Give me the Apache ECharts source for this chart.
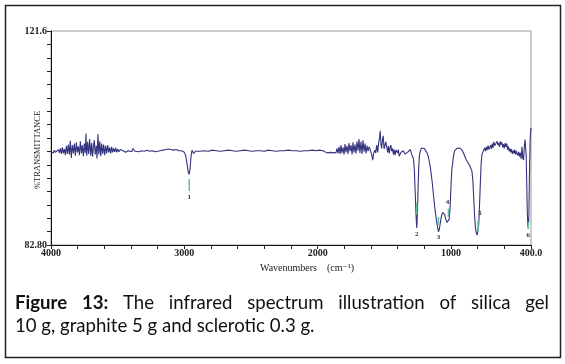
<!DOCTYPE html>
<html><head><meta charset="utf-8">
<script src="https://cdn.jsdelivr.net/npm/echarts@6/dist/echarts.min.js"></script>
<style>html,body{margin:0;padding:0;background:#fff}#c{width:565px;height:364px}</style>
</head><body><div id="c"></div>
<script>
// ---- data: [wavenumber (cm-1), %T] ----
const spectrumPoints = [
[4000,99.7],[3990,99.9],[3982,99.5],[3975,100.0],[3967,99.6],[3960,99.9],[3952,99.4],[3945,100.1],[3937,99.5],[3930,100.3],
[3922,99.3],[3915,100.5],[3907,99.4],[3900,100.2],[3892,99.1],[3885,100.8],[3877,99.3],[3870,101.0],[3862,99.2],[3855,101.7],
[3848,98.6],[3840,100.9],[3832,99.4],[3825,101.2],[3817,99.0],[3810,101.4],[3802,99.6],[3795,100.7],[3787,99.1],[3780,101.6],
[3772,99.4],[3765,100.9],[3757,98.9],[3750,101.2],[3743,99.5],[3738,103.0],[3732,99.0],[3725,101.5],[3717,99.3],[3710,102.0],
[3702,99.0],[3695,101.3],[3688,98.8],[3680,101.0],[3675,101.8],[3668,99.2],[3660,100.8],[3655,98.5],[3648,102.9],[3641,99.2],
[3634,101.6],[3627,98.9],[3620,101.2],[3612,99.3],[3605,101.0],[3597,99.1],[3590,100.8],[3582,99.4],[3575,100.9],[3567,99.6],
[3560,100.5],[3552,99.4],[3545,100.6],[3537,99.6],[3530,100.3],[3522,99.7],[3515,100.4],[3507,99.6],[3500,100.2],[3490,99.7],
[3480,100.1],[3470,99.8],[3460,99.9],[3440,99.6],[3420,99.9],[3405,100.2],[3395,99.7],[3385,100.3],[3370,99.8],[3355,100.0],
[3340,99.7],[3320,99.9],[3300,99.8],[3280,100.0],[3260,99.8],[3240,99.9],[3220,99.7],[3200,99.8],[3180,99.9],[3160,100.0],
[3140,100.1],[3120,100.2],[3100,100.1],[3080,100.0],[3060,100.1],[3040,99.9],[3020,99.9],[3000,99.6],[2990,99.0],[2980,97.6],
[2972,96.2],[2966,95.6],[2960,96.0],[2954,97.6],[2948,99.2],[2942,100.0],[2936,99.8],[2930,99.4],[2925,99.3],[2915,99.8],
[2900,99.9],[2880,99.8],[2850,99.9],[2820,99.8],[2790,100.0],[2760,99.9],[2730,99.8],[2700,99.9],[2670,100.0],[2640,99.9],
[2610,99.8],[2580,99.9],[2550,100.0],[2520,99.9],[2490,99.8],[2460,99.9],[2430,99.9],[2400,99.8],[2370,100.0],[2340,99.9],
[2310,99.8],[2280,99.9],[2250,99.9],[2220,100.0],[2190,99.9],[2160,99.9],[2130,99.8],[2100,99.9],[2070,99.9],[2040,100.0],
[2010,99.9],[1990,100.0],[1975,100.2],[1960,99.9],[1945,99.6],[1930,99.5],[1915,99.4],[1900,99.6],[1890,99.3],[1880,99.5],
[1870,99.2],[1862,99.6],[1855,100.3],[1848,99.4],[1840,100.6],[1832,99.3],[1825,100.9],[1818,99.5],[1810,100.5],[1802,99.2],
[1795,101.1],[1788,99.6],[1780,100.8],[1772,99.3],[1765,101.3],[1757,99.8],[1750,100.9],[1742,99.2],[1735,101.4],[1727,99.6],
[1720,101.0],[1712,99.4],[1705,101.6],[1697,99.9],[1690,102.0],[1683,99.5],[1675,101.5],[1667,99.3],[1660,101.8],[1652,99.7],
[1645,101.2],[1637,99.4],[1630,100.8],[1622,99.8],[1615,100.6],[1607,100.2],[1600,99.6],[1593,99.0],[1587,98.2],[1580,99.4],
[1572,100.0],[1565,99.5],[1557,100.9],[1550,99.6],[1542,101.4],[1535,102.4],[1531,103.5],[1525,101.0],[1520,100.3],[1514,101.8],
[1508,102.6],[1502,100.2],[1495,100.0],[1489,101.5],[1482,101.2],[1475,99.6],[1469,100.8],[1463,99.4],[1457,100.4],[1451,100.9],
[1445,99.8],[1438,100.3],[1432,99.2],[1426,100.1],[1420,99.1],[1413,100.0],[1407,100.3],[1401,99.5],[1395,100.1],[1388,98.9],
[1382,98.8],[1376,99.6],[1370,99.9],[1364,99.3],[1358,99.9],[1351,99.6],[1345,99.3],[1338,99.5],[1332,99.1],[1326,99.6],
[1320,99.8],[1313,99.6],[1307,100.1],[1300,99.7],[1293,99.1],[1287,99.1],[1282,98.5],[1275,96.5],[1268,92.0],[1262,88.0],
[1257,85.9],[1252,88.5],[1247,93.0],[1242,97.0],[1236,99.2],[1228,100.0],[1220,100.4],[1210,100.5],[1200,100.3],[1190,100.0],
[1180,99.5],[1170,98.8],[1160,97.6],[1150,96.0],[1140,94.0],[1130,91.5],[1120,89.2],[1110,87.4],[1100,85.9],[1094,85.2],
[1088,85.6],[1080,86.8],[1072,88.0],[1063,88.7],[1059,88.9],[1053,88.7],[1047,88.3],[1038,87.4],[1030,86.9],[1019,86.7],
[1013,87.5],[1006,90.0],[1000,93.5],[994,96.5],[988,97.5],[980,99.2],[972,99.9],[964,100.2],[955,100.3],[945,100.4],
[935,100.4],[925,100.2],[915,99.9],[905,99.4],[895,98.8],[885,98.2],[875,97.8],[868,97.7],[862,97.3],[856,97.2],
[850,97.0],[843,96.2],[836,94.5],[830,91.5],[824,88.5],[818,86.3],[811,85.0],[804,84.6],[798,84.8],[792,86.5],
[786,90.0],[780,94.0],[774,97.5],[768,99.2],[762,99.6],[755,99.9],[748,100.4],[741,99.8],[735,100.6],[729,100.0],
[722,100.8],[716,100.1],[710,100.5],[703,100.9],[697,100.2],[691,101.2],[685,100.4],[679,101.5],[672,100.8],[666,101.0],
[660,100.5],[654,101.6],[648,100.9],[642,101.3],[636,100.6],[630,101.6],[624,101.0],[618,101.4],[612,100.5],[606,101.1],
[600,100.3],[594,101.3],[588,100.6],[582,101.2],[576,100.1],[570,100.7],[564,99.8],[558,100.3],[552,99.6],[546,100.2],
[540,99.3],[534,99.9],[528,99.4],[522,100.1],[516,99.2],[510,99.8],[504,99.6],[498,99.0],[492,99.7],[486,98.8],
[480,99.5],[474,98.4],[468,100.6],[462,98.6],[456,98.2],[450,100.8],[445,101.9],[440,102.2],[436,99.0],[432,94.0],
[428,89.0],[424,86.5],[420,85.7],[416,88.0],[412,95.0],[407,101.5],[404,103.0],[401,104.0],[400,103.8]
];
const peakWavenumbers = [2963, 1257, 1094, 1019, 797, 420];
const peakMarkTop     = [94.76, 90.4, 87.9, 89.4, 87.3, 87.0];
const peakMarkBottom  = [92.59, 88.4, 86.4, 87.9, 85.2, 85.7];
const peakLabelValues = [91.5, 84.8, 84.3, 90.6, 88.6, 84.5];
const peakLabels      = ['1','2','3','4','5','6'];
const xLabelValues = [4000, 3000, 2000, 1000, 400];
const xLabelTexts  = ['4000', '3000', '2000', '1000', '400.0'];
const yRange = [82.8, 121.6];
const yTickLabels = ['82.80', '121.6'];
const captionLine1 = [['Figure', true], ['13:', true], ['The', false], ['infrared', false], ['spectrum', false], ['illustration', false], ['of', false], ['silica', false], ['gel', false]];
const captionLine2 = '10 g, graphite 5 g and sclerotic 0.3 g.';

// ---- styles / layout ----
const labelDx = [0, 0, 0, -1, 2, 0];
const serif = '"Liberation Serif", "DejaVu Serif", serif';
const capFamily = 'Lato, "Open Sans", sans-serif';

const ctx = document.createElement('canvas').getContext('2d');
function tw(text, font) { ctx.font = font; return ctx.measureText(text).width; }
const capLeft = 15, capRight = 549, line2Width = 299;
let fs = 16 * line2Width / tw(captionLine2, '16px ' + capFamily);
fs = Math.round(fs * 10) / 10;
const fontN = fs + 'px ' + capFamily, fontB = 'bold ' + fs + 'px ' + capFamily;
const widths = captionLine1.map(([t, b]) => tw(t, b ? fontB : fontN));
const gap = (capRight - capLeft - widths.reduce((a, b) => a + b, 0)) / (captionLine1.length - 1);
const captionGraphics = [];
let cx = capLeft;
captionLine1.forEach(([t, b], i) => {
  captionGraphics.push({type: 'text', x: cx, y: 303, style: {text: t, font: b ? fontB : fontN, fill: '#111', align: 'left', verticalAlign: 'middle'}});
  cx += widths[i] + gap;
});
captionGraphics.push({type: 'text', x: capLeft, y: 326, style: {text: captionLine2, font: fontN, fill: '#111', align: 'left', verticalAlign: 'middle'}});

const chart = echarts.init(document.getElementById('c'), null, {renderer: 'canvas'});
chart.setOption({
  animation: false,
  backgroundColor: '#fff',
  grid: {left: 51, right: 34, top: 31, bottom: 119, show: true, borderColor: '#9a9a9a', borderWidth: 1},
  xAxis: {
    type: 'value', min: 400, max: 4000, interval: 200, inverse: true,
    axisLine: {show: true, onZero: false, lineStyle: {color: '#111', width: 1}},
    axisTick: {show: true, inside: false, length: 4, lineStyle: {color: '#222'}},
    splitLine: {show: false},
    axisLabel: {
      show: true, margin: 3, showMinLabel: true, showMaxLabel: true,
      fontFamily: serif, fontWeight: 'bold', fontSize: 10, color: '#222',
      formatter: v => { const k = xLabelValues.indexOf(v); return k >= 0 ? xLabelTexts[k] : ''; }
    }
  },
  yAxis: [
    {type: 'value', min: yRange[0], max: yRange[1], show: false},
    {type: 'value', min: 0, max: 16, interval: 1, position: 'left',
     axisLine: {show: true, onZero: false, lineStyle: {color: '#111', width: 1}},
     axisTick: {show: true, inside: false, length: 4, lineStyle: {color: '#222'}},
     splitLine: {show: false},
     axisLabel: {show: true, margin: 4, showMinLabel: true, showMaxLabel: true,
       fontFamily: serif, fontWeight: 'bold', fontSize: 10, color: '#222',
       formatter: v => v === 0 ? yTickLabels[0] : (v === 16 ? yTickLabels[1] : '')}}
  ],
  series: [
    {type: 'line', data: spectrumPoints, yAxisIndex: 0, showSymbol: false, symbol: 'none',
     lineStyle: {color: '#34337f', width: 1.1}, z: 3},
    {type: 'custom', yAxisIndex: 0, z: 4,
     data: peakWavenumbers.map((w, i) => [w, peakMarkTop[i], peakMarkBottom[i], peakLabelValues[i], i]),
     encode: {x: 0, y: [1, 2]},
     renderItem: (params, api) => {
       const i = api.value(4);
       const p1 = api.coord([api.value(0), api.value(1)]);
       const p2 = api.coord([api.value(0), api.value(2)]);
       const pl = api.coord([api.value(0), api.value(3)]);
       return {type: 'group', children: [
         {type: 'line', shape: {x1: p1[0], y1: p1[1], x2: p2[0], y2: p2[1]}, style: {stroke: '#5fbf9e', lineWidth: 1.5}},
         {type: 'text', x: pl[0] + labelDx[i], y: pl[1], style: {text: peakLabels[i], font: 'bold 7px ' + serif, fill: '#333', align: 'center', verticalAlign: 'middle'}}
       ]};
     }}
  ],
  graphic: [
    {type: 'rect', shape: {x: 5.5, y: 5.5, width: 555, height: 352}, style: {fill: 'none', stroke: '#222', lineWidth: 1.5}, z: 10},
    {type: 'text', x: 38, y: 150, rotation: Math.PI / 2, style: {text: '%TRANSMITTANCE', font: '8.5px ' + serif, fill: '#222', align: 'center', verticalAlign: 'middle'}},
    {type: 'text', x: 260, y: 268, style: {text: 'Wavenumbers', font: '10px ' + serif, fill: '#222', align: 'left', verticalAlign: 'middle'}},
    {type: 'text', x: 327, y: 268, style: {text: '(cm\u207B\u00B9)', font: '10px ' + serif, fill: '#222', align: 'left', verticalAlign: 'middle'}}
  ].concat(captionGraphics)
});
</script>
</body></html>
